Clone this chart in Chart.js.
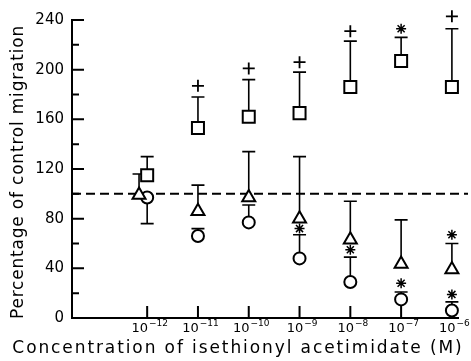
<!DOCTYPE html>
<html>
<head>
<meta charset="utf-8">
<script src="https://cdn.jsdelivr.net/npm/chart.js@4"></script>
<style>
  html, body { margin: 0; padding: 0; background: #fff; }
  #wrap { width: 471px; height: 361px; }
</style>
</head>
<body>
<div id="wrap"><canvas id="chart" width="471" height="361"></canvas></div>
<script>
// x values are log10 of molar concentration
const concentrations = [-12, -11, -10, -9, -8, -7, -6];
const xTickExponents = ['\u221212', '\u221211', '\u221210', '\u22129', '\u22128', '\u22127', '\u22126'];
const yTicks = [0, 40, 80, 120, 160, 200, 240];
const yMinorTicks = [20, 60, 100, 140, 180, 220];

// squares
const squareValues = [115, 153, 162, 165, 186, 207, 186];
const squareErrEnd = [130, 178, 192, 198, 223, 226, 233];
// triangles (first one sits slightly left of the tick)
const triangleX = [-12.16, -11, -10, -9, -8, -7, -6];
const triangleValues = [99, 86, 97, 80, 63, 43.5, 39];
const triangleErrEnd = [116, 107, 134, 130, 94, 79, 60];
// circles
const circleValues = [97, 66, 77, 48, 29, 15, 6];
const circleErrEnd = [76, 72, 91, 67, 49, 21, 13];

// significance marks
const plusX = [-11, -10, -9, -8, -6];
const plusY = [187, 201, 206, 231, 243];
const starX = [-7, -9, -8, -7, -6, -6];
const starY = [233, 72, 55, 28, 19, 67];

const controlLevel = 100;

const xTitle = 'Concentration of isethionyl acetimidate (M)';
const yTitle = 'Percentage of control migration';

const FONT = 'DejaVu Sans';

function pts(xs, ys) {
    return ys.map((y, i) => ({ x: xs[i], y: y }));
}

const errorBars = [
    { xs: concentrations, ys: squareValues, ends: squareErrEnd },
    { xs: triangleX, ys: triangleValues, ends: triangleErrEnd },
    { xs: concentrations, ys: circleValues, ends: circleErrEnd },
];

const figurePlugin = {
    id: 'figure',
    beforeDatasetsDraw(chart) {
        const { ctx, chartArea, scales } = chart;
        const x = scales.x, y = scales.y;
        ctx.save();
        ctx.strokeStyle = '#000';

        // control line
        ctx.lineWidth = 2;
        ctx.setLineDash([9, 5]);
        const yc = y.getPixelForValue(controlLevel);
        ctx.beginPath();
        ctx.moveTo(chartArea.left, yc);
        ctx.lineTo(chartArea.right + 10, yc);
        ctx.stroke();
        ctx.setLineDash([]);

        // error bars
        ctx.lineWidth = 1.6;
        errorBars.forEach(s => {
            s.ys.forEach((v, i) => {
                const px = x.getPixelForValue(s.xs[i]);
                const p0 = y.getPixelForValue(v);
                const p1 = y.getPixelForValue(s.ends[i]);
                ctx.beginPath();
                ctx.moveTo(px, p0);
                ctx.lineTo(px, p1);
                ctx.moveTo(px - 6.5, p1);
                ctx.lineTo(px + 6.5, p1);
                ctx.stroke();
            });
        });

        // inward ticks
        ctx.lineWidth = 2;
        ctx.beginPath();
        yTicks.forEach(t => {
            const py = y.getPixelForValue(t);
            ctx.moveTo(chartArea.left, py);
            ctx.lineTo(chartArea.left + 12, py);
        });
        yMinorTicks.forEach(t => {
            const py = y.getPixelForValue(t);
            ctx.moveTo(chartArea.left, py);
            ctx.lineTo(chartArea.left + 7, py);
        });
        concentrations.forEach(c => {
            const px = x.getPixelForValue(c);
            ctx.moveTo(px, chartArea.bottom);
            ctx.lineTo(px, chartArea.bottom - 12);
        });
        ctx.stroke();

        // x tick labels with exponents
        ctx.fillStyle = '#000';
        ctx.textBaseline = 'alphabetic';
        concentrations.forEach((c, i) => {
            const px = x.getPixelForValue(c);
            ctx.font = '13px "' + FONT + '"';
            const wb = ctx.measureText('10').width;
            ctx.font = '9px "' + FONT + '"';
            const we = ctx.measureText(xTickExponents[i]).width;
            const x0 = px - (wb + we) / 2 + 2;
            ctx.font = '13px "' + FONT + '"';
            ctx.fillText('10', x0, chartArea.bottom + 14);
            ctx.font = '9px "' + FONT + '"';
            ctx.fillText(xTickExponents[i], x0 + wb + 1, chartArea.bottom + 8);
        });
        ctx.restore();
    },
    afterDraw(chart) {
        const { ctx, chartArea } = chart;
        ctx.save();
        ctx.fillStyle = '#000';
        ctx.textAlign = 'center';
        ctx.textBaseline = 'alphabetic';
        // axis titles, spaced out like the wide original lettering
        ctx.font = '17px "' + FONT + '"';
        ctx.letterSpacing = '1.9px';
        ctx.fillText(xTitle, 238, 353);
        ctx.letterSpacing = '0.8px';
        ctx.translate(23, (chartArea.top + chartArea.bottom) / 2 + 3);
        ctx.rotate(-Math.PI / 2);
        ctx.fillText(yTitle, 0, 0);
        ctx.restore();
    }
};

const markStyle = {
    borderColor: '#000',
    backgroundColor: '#fff',
    borderWidth: 2,
    showLine: false,
    clip: false,
};

new Chart(document.getElementById('chart'), {
    type: 'scatter',
    data: {
        datasets: [
            Object.assign({ data: pts(concentrations, squareValues), pointStyle: 'rect', pointRadius: 8.5 }, markStyle),
            Object.assign({ data: pts(triangleX, triangleValues), pointStyle: 'triangle', pointRadius: 7.5 }, markStyle),
            Object.assign({ data: pts(concentrations, circleValues), pointStyle: 'circle', pointRadius: 6 }, markStyle),
            Object.assign({ data: pts(plusX, plusY), pointStyle: 'cross', pointRadius: 6 }, markStyle, { borderWidth: 1.8 }),
            Object.assign({ data: pts(starX, starY), pointStyle: 'star', pointRadius: 5 }, markStyle, { borderWidth: 1.5 }),
        ]
    },
    options: {
        responsive: false,
        animation: false,
        events: [],
        layout: { padding: { top: 20, right: 13, left: 0, bottom: 0 } },
        plugins: { legend: { display: false }, tooltip: { enabled: false } },
        scales: {
            x: {
                type: 'linear',
                min: -13.48,
                max: -5.88,
                grid: { display: false, drawTicks: false },
                border: { display: true, color: '#000', width: 2 },
                ticks: { display: false },
                afterFit: s => { s.height = 43; }
            },
            y: {
                min: 0,
                max: 240,
                grid: { display: false, drawTicks: false },
                border: { display: true, color: '#000', width: 2 },
                afterBuildTicks: s => { s.ticks = yTicks.map(v => ({ value: v })); },
                ticks: {
                    color: '#000',
                    padding: 8,
                    font: { family: FONT, size: 15 }
                },
                afterFit: s => { s.width = 72; }
            }
        }
    },
    plugins: [figurePlugin]
});
</script>
</body>
</html>
